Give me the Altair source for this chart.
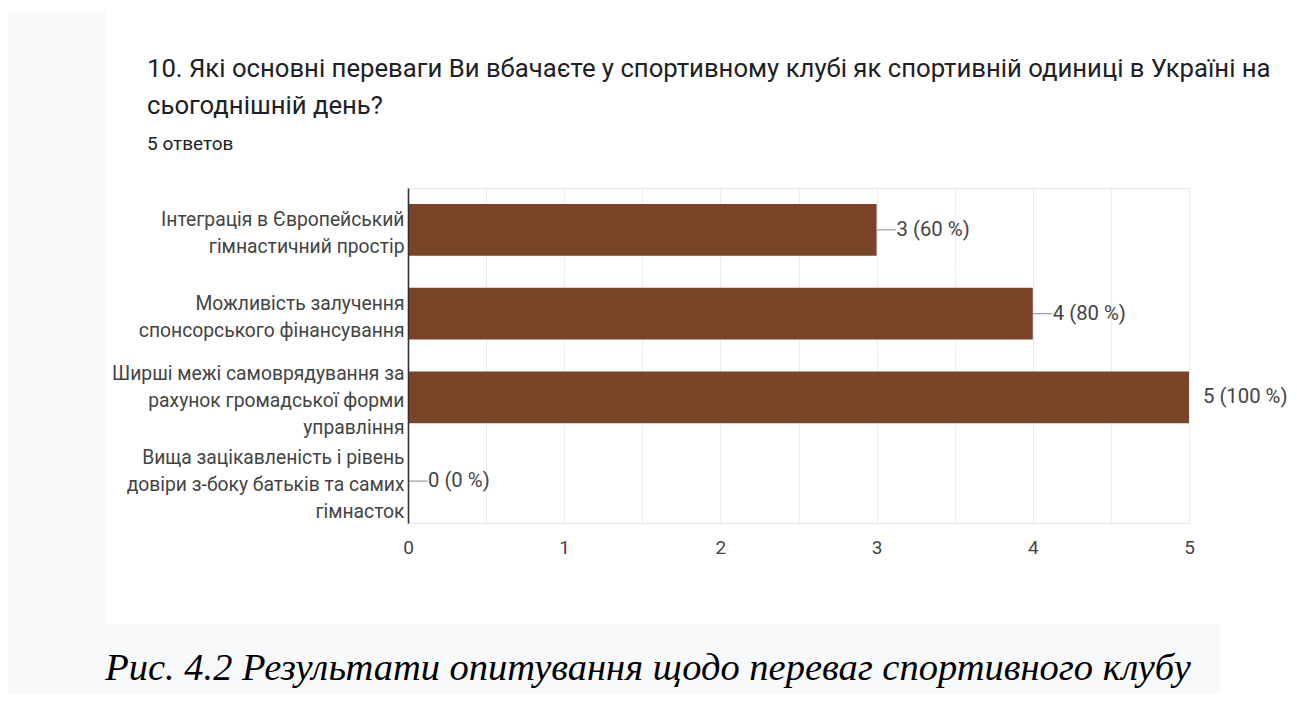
import altair as alt
import pandas as pd

# ---- data ----
categories = [
    "Інтеграція в Європейський\nгімнастичний простір",
    "Можливість залучення\nспонсорського фінансування",
    "Ширші межі самоврядування за\nрахунок громадської форми\nуправління",
    "Вища зацікавленість і рівень\nдовіри з-боку батьків та самих\nгімнасток",
]
counts = [3, 4, 5, 0]
percents = [60, 80, 100, 0]
x_ticks = [0, 0.5, 1, 1.5, 2, 2.5, 3, 3.5, 4, 4.5, 5]

title_line1 = "10. Які основні переваги Ви вбачаєте у спортивному клубі як спортивній одиниці в Україні на"
title_line2 = "сьогоднішній день?"
subtitle = "5 ответов"
caption = "Рис. 4.2 Результати опитування щодо переваг спортивного клубу"

df = pd.DataFrame({"cat": categories, "n": counts, "pct": percents})

BAR = "#7b4327"
FONT = "Roboto"

y_enc = alt.Y(
    "cat:N", sort=None, title=None,
    scale=alt.Scale(paddingInner=0.38, paddingOuter=0.19),
    axis=alt.Axis(
        labelExpr="split(datum.label, '\\n')",
        labelFont=FONT, labelFontSize=19.3, labelColor="#444444",
        labelLineHeight=27, labelLimit=400, labelPadding=4,
        labelOffset={"condition": {"test": "length(split(datum.value, '\\n')) == 3", "value": -23},
                     "value": -9.5},
        ticks=False, tickSize=0, domainColor="#333333", domainWidth=1.6,
        grid=False, zindex=1,
    ),
)
x_enc = alt.X(
    "n:Q", title=None,
    scale=alt.Scale(domain=[0, 5], nice=False),
    axis=alt.Axis(
        values=x_ticks,
        labelExpr="datum.value % 1 == 0 ? format(datum.value, 'd') : ''",
        labelFont=FONT, labelFontSize=19, labelColor="#444444", labelFlush=False,
        labelPadding=15, ticks=False, tickSize=0, domain=False,
        grid=True, gridColor="#ebebeb", gridWidth=1,
    ),
)

base = alt.Chart(df)

bars = base.mark_bar(color=BAR).encode(x=x_enc, y=y_enc)

leaders = base.transform_calculate(end="datum.n + 0.125").mark_rule(
    color="#9e9e9e", strokeWidth=1.2, clip=True
).encode(x="n:Q", x2="end:Q", y=alt.Y("cat:N", sort=None))

lab_base = base.transform_calculate(lab="datum.n + ' (' + datum.pct + ' %)'")
labels = lab_base.transform_filter("datum.pct < 100").mark_text(
    align="left", baseline="middle", dx=20, font=FONT, fontSize=20.3, color="#444444"
).encode(x="n:Q", y=alt.Y("cat:N", sort=None), text="lab:N")
# the full-scale label is nudged inward a little so it stays inside the page
labels_full = lab_base.transform_filter("datum.pct >= 100").mark_text(
    align="left", baseline="middle", dx=14, font=FONT, fontSize=20.3, color="#444444"
).encode(x="n:Q", y=alt.Y("cat:N", sort=None), text="lab:N")


def panel(x1, x2, y1, y2):
    return alt.Chart(pd.DataFrame({"k": [0]})).mark_rect(color="#f8f9fa").encode(
        x=alt.value(x1), x2=alt.value(x2), y=alt.value(y1), y2=alt.value(y2)
    )


def note(text, x, y, **kw):
    return alt.Chart(pd.DataFrame({"t": [text]})).mark_text(**kw).encode(
        x=alt.value(x), y=alt.value(y), text="t:N"
    )


left_panel = panel(-400, -302, -177, 506)
cap_panel = panel(-302, 812, 436, 506)

t1 = note(title_line1, -261, -111, align="left", baseline="alphabetic",
          font=FONT, fontSize=25.7, color="#202124")
t2 = note(title_line2, -261, -74, align="left", baseline="alphabetic",
          font=FONT, fontSize=25.7, color="#202124")
st = note(subtitle, -261, -38, align="left", baseline="alphabetic",
          font=FONT, fontSize=19, color="#202124")
cap = note(caption, 240, 492, align="center", baseline="alphabetic",
           font="Liberation Serif", fontStyle="italic", fontSize=38.5, color="#000000")

chart = alt.layer(
    left_panel, cap_panel, bars, leaders, labels, labels_full, t1, t2, st, cap
).properties(
    width=781, height=335,
    padding={"left": 400, "top": 180, "right": 100, "bottom": 171},
    autosize=alt.AutoSizeParams(type="none"),
    background="white",
).configure_view(stroke="#e8e8e8", strokeWidth=1)

chart.save("out.html", embed_options={"renderer": "svg", "actions": False})
